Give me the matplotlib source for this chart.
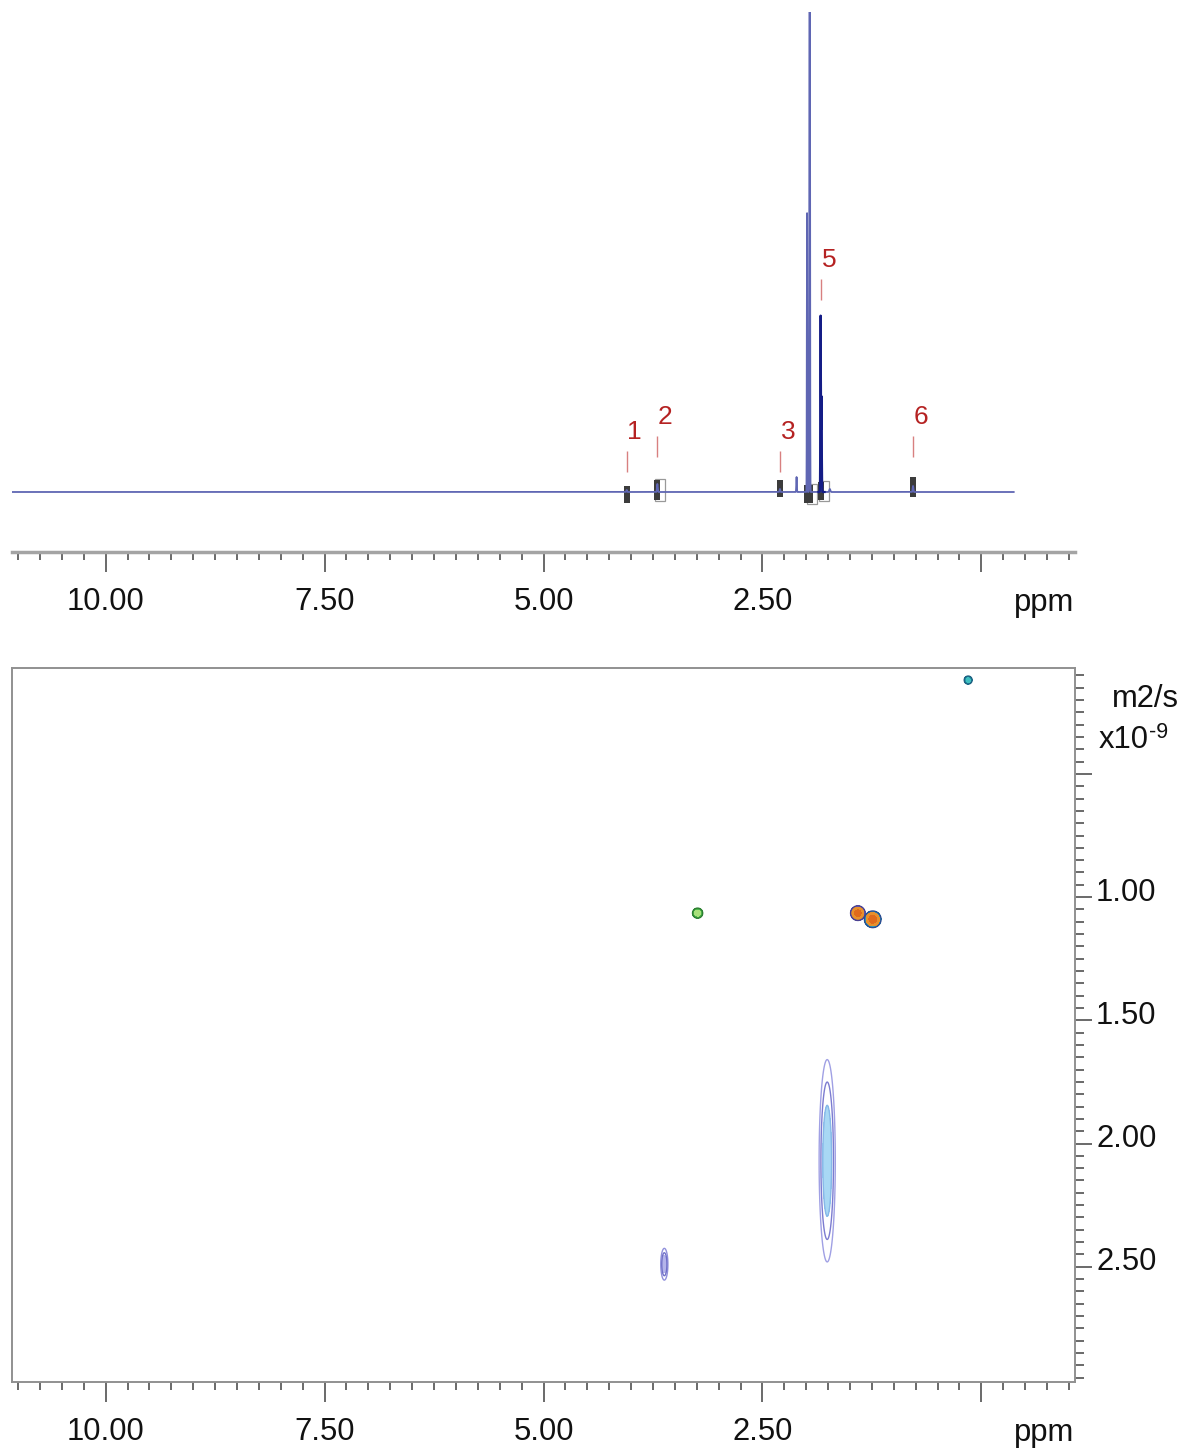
import numpy as np
import matplotlib
matplotlib.use("Agg")
import matplotlib.pyplot as plt
from matplotlib.ticker import FixedLocator, MultipleLocator, FixedFormatter, NullFormatter
from matplotlib.transforms import offset_copy

plt.rcParams['font.family'] = ['Liberation Sans', 'DejaVu Sans']

# ---------------- 1D proton spectrum ----------------
# line positions (ppm), heights (baseline = 0) and gaussian widths (ppm)
line_ppm = [4.05, 3.70, 2.30, 2.11, 1.99, 1.96, 1.835, 1.825, 1.73, 0.78]
line_height = [2, 8, 3, 15, 279, 900, 176, 95, 3, 6]
line_sigma = [0.004, 0.004, 0.004, 0.003, 0.0025, 0.003, 0.003, 0.003, 0.006, 0.004]

# integral region markers
integral_ppm = [4.05, 3.70, 2.30, 1.99, 1.96, 1.83, 0.78]
integral_top = [6, 12, 12, 7, 7, 10, 15]
integral_bottom = [-11, -8, -5, -11, -11, -8, -5]

# peak annotations
label_text = ['1', '2', '3', '5', '6']
label_ppm = [4.05, 3.70, 2.30, 1.83, 0.78]
label_lift = [20, 35, 20, 192, 35]

# ---------------- DOSY cross peaks ----------------
spot_ppm = [3.24, 1.41, 1.24, 0.15, 1.76, 3.62]
spot_D = [1.065, 1.065, 1.09, 0.119, 2.07, 2.49]
spot_sx = [0.027, 0.037, 0.040, 0.021, 0.040, 0.019]
spot_sd = [0.0095, 0.0132, 0.0142, 0.0076, 0.178, 0.030]

ppm_ticks = [10.0, 7.5, 5.0, 2.5, 0.0]
ppm_ticklabels = ['10.00', '7.50', '5.00', '2.50', '']
d_ticks = [0.5, 1.0, 1.5, 2.0, 2.5]
d_ticklabels = ['', '1.00', '1.50', '2.00', '2.50']

W, H = 1187, 1450
fig = plt.figure(figsize=(W / 100, H / 100), dpi=100)


def fx(px):
    return px / W


def fy(py):
    return 1 - py / H


XL = (11.07, -1.07)
TICK_FS = 22.3
TEXT_COLOR = '#111111'
AXIS_GRAY = '#a4a4a4'
TICK_GRAY = '#505050'


def style_ppm_axis(ax):
    ax.xaxis.set_major_locator(FixedLocator(ppm_ticks))
    ax.xaxis.set_major_formatter(FixedFormatter(ppm_ticklabels))
    ax.xaxis.set_minor_locator(MultipleLocator(0.25))
    ax.tick_params(axis='x', which='major', direction='out', length=14.4,
                   width=1.2, color=TICK_GRAY, pad=10.5, labelsize=TICK_FS,
                   labelcolor=TEXT_COLOR)
    ax.tick_params(axis='x', which='minor', direction='out', length=5.8,
                   width=1.2, color=TICK_GRAY)


# ---------------- top: spectrum ----------------
ax1 = fig.add_axes([fx(12), fy(552), fx(1075 - 12), (552 - 12) / H])
ax1.set_xlim(*XL)
ax1.set_ylim(-60, 480)
for s in ['top', 'left', 'right']:
    ax1.spines[s].set_visible(False)
ax1.spines['bottom'].set_color(AXIS_GRAY)
ax1.spines['bottom'].set_linewidth(2.5)
ax1.set_yticks([])
style_ppm_axis(ax1)

x = np.linspace(11.07, -0.37, 60000)
y = np.zeros_like(x)
for p, h, s in zip(line_ppm, line_height, line_sigma):
    y += h * np.exp(-0.5 * ((x - p) / s) ** 2)

# integral markers (behind the trace)
for p, t, b in zip(integral_ppm, integral_top, integral_bottom):
    if p in (3.70, 1.96, 1.83):
        ax1.bar(p - 0.03, t - b + 2, bottom=b - 1, width=0.11,
                facecolor='none', edgecolor='#999999', linewidth=0.9, zorder=1)
ax1.bar(integral_ppm, np.array(integral_top) - np.array(integral_bottom),
        bottom=integral_bottom, width=0.065, color='#3c3c3c', zorder=2)

ax1.plot(x, y, color='#5f66b3', lw=1.3, zorder=3)
sel = (x < 1.86) & (x > 1.79)
ax1.plot(x[sel], y[sel], color='#141c86', lw=1.6, zorder=4)

for t, p, lift in zip(label_text, label_ppm, label_lift):
    ax1.vlines(p, lift, lift + 21, color='#d88080', lw=1.0, zorder=5)
    ax1.text(p - 0.092, lift + 40, t, color='#b52222', fontsize=19,
             ha='center', va='center', zorder=5)

fig.text(fx(1074), fy(611), 'ppm', ha='right', va='baseline',
         fontsize=TICK_FS, color=TEXT_COLOR)

# ---------------- bottom: DOSY map ----------------
ax2 = fig.add_axes([fx(12), fy(1382), fx(1075 - 12), (1382 - 668) / H])
ax2.set_xlim(*XL)
ax2.set_ylim(2.968, 0.070)
for s in ax2.spines.values():
    s.set_color('#909090')
    s.set_linewidth(1.4)
style_ppm_axis(ax2)
ax2.yaxis.tick_right()
ax2.yaxis.set_major_locator(FixedLocator(d_ticks))
ax2.yaxis.set_major_formatter(NullFormatter())
ax2.yaxis.set_minor_locator(MultipleLocator(0.05))
ax2.tick_params(axis='y', which='major', direction='out', length=12.5,
                width=1.2, color=TICK_GRAY)
ax2.tick_params(axis='y', which='minor', direction='out', length=6.5,
                width=1.2, color=TICK_GRAY)

# diffusion labels sit with their baseline just below the tick
ytrans = offset_copy(ax2.get_yaxis_transform(), fig=fig, x=21, y=-3.5, units='dots')
for d, lab in zip(d_ticks, d_ticklabels):
    ax2.text(1.0, d, lab, transform=ytrans, ha='left', va='baseline',
             fontsize=TICK_FS, color=TEXT_COLOR, clip_on=False)

spot_styles = [
    # filled levels, fill colours, outline levels, outline colours
    dict(fill=[0.1, 0.45, 1.01], fc=['#4cb84c', '#a8e07a'], line=[0.1], lc=['#2e7d32']),
    dict(fill=[0.08, 0.18, 0.6, 1.01], fc=['#7a70c0', '#e8902c', '#e06a1c'], line=[0.08], lc=['#4a4090']),
    dict(fill=[0.06, 0.16, 0.55, 1.01], fc=['#2aa6b8', '#e8902c', '#e06a1c'], line=[0.06], lc=['#2f4a90']),
    dict(fill=[0.1, 0.5, 1.01], fc=['#1f9aa8', '#3fbfc0'], line=[0.1], lc=['#1f5f80']),
    dict(fill=[0.45, 1.01], fc=['#a8d8f4'], line=[0.07, 0.2, 0.45], lc=['#a0a0e4', '#7c7cd0', '#86b8e8']),
    dict(fill=[0.5, 1.01], fc=['#b4b4ea'], line=[0.1, 0.3], lc=['#9090dc', '#7070c8']),
]

for p, d, sx, sd, st in zip(spot_ppm, spot_D, spot_sx, spot_sd, spot_styles):
    gx = np.linspace(p - 6 * sx, p + 6 * sx, 241)
    gd = np.linspace(d - 6 * sd, d + 6 * sd, 241)
    GX, GD = np.meshgrid(gx, gd)
    Z = np.exp(-0.5 * ((GX - p) / sx) ** 2 - 0.5 * ((GD - d) / sd) ** 2)
    ax2.contourf(GX, GD, Z, levels=st['fill'], colors=st['fc'])
    ax2.contour(GX, GD, Z, levels=st['line'], colors=st['lc'], linewidths=1.0)

fig.text(fx(1074), fy(1441), 'ppm', ha='right', va='baseline',
         fontsize=TICK_FS, color=TEXT_COLOR)

# unit caption of the diffusion axis
fig.text(fx(1179), fy(707), 'm2/s', ha='right', va='baseline',
         fontsize=TICK_FS, color=TEXT_COLOR)
fig.text(fx(1149), fy(748), 'x10', ha='right', va='baseline',
         fontsize=TICK_FS, color=TEXT_COLOR)
fig.text(fx(1149), fy(738), '-9', ha='left', va='baseline',
         fontsize=15.5, color=TEXT_COLOR)

fig.savefig('out.png', dpi=100)
